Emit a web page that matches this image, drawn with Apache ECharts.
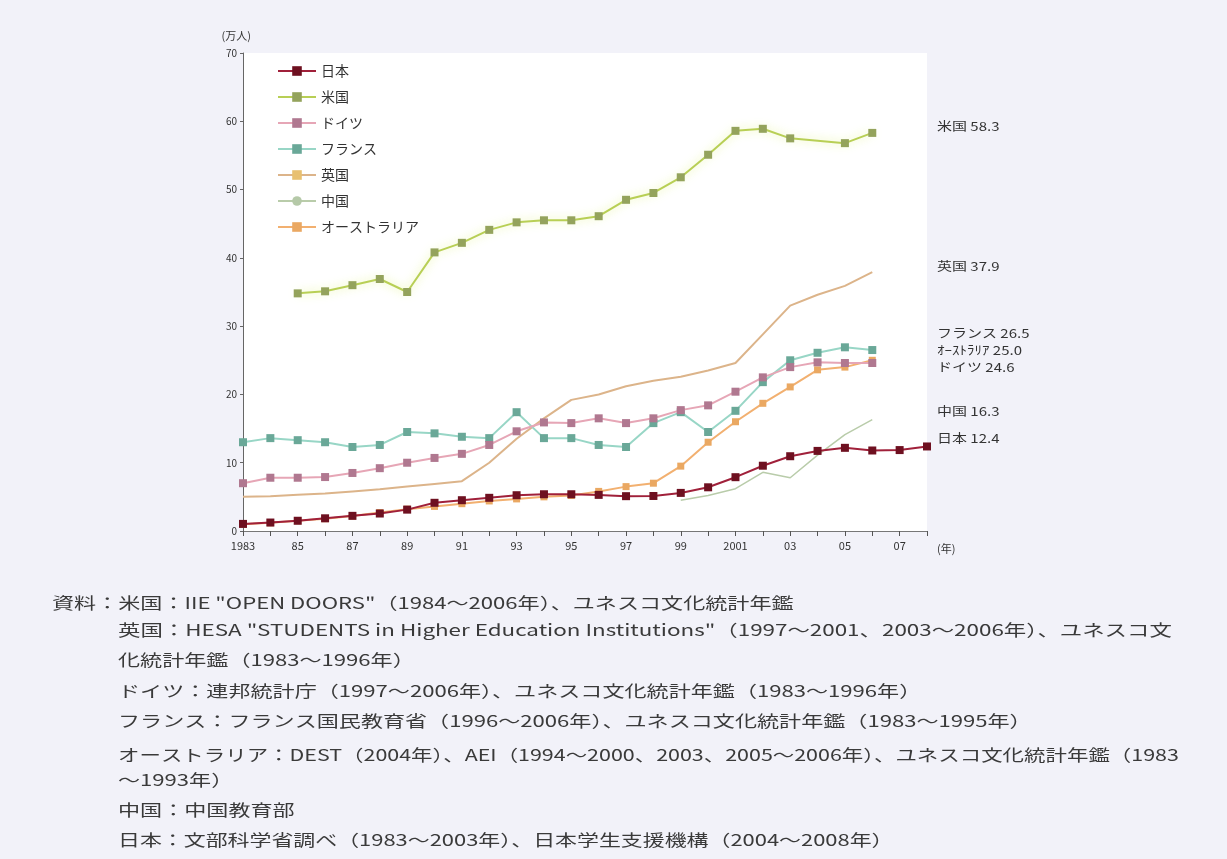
<!DOCTYPE html>
<html><head><meta charset="utf-8">
<script src="https://cdn.jsdelivr.net/npm/echarts@6/dist/echarts.min.js"></script>
<style>html,body{margin:0;padding:0;background:#f2f2f9;}#c{width:1227px;height:859px;}</style>
</head><body><div id="c"></div>
<script>
const years = ['1983','1984','1985','1986','1987','1988','1989','1990','1991','1992','1993','1994','1995','1996','1997','1998','1999','2000','2001','2002','2003','2004','2005','2006','2007','2008'];
const xTickLabels = ['1983','','85','','87','','89','','91','','93','','95','','97','','99','','2001','','03','','05','','07',''];
const japan = [1.04,1.24,1.50,1.86,2.22,2.56,3.13,4.13,4.51,4.86,5.24,5.38,5.38,5.29,5.10,5.13,5.58,6.40,7.88,9.56,10.95,11.73,12.18,11.79,11.85,12.38];
const usa = [null,null,34.8,35.1,36.0,36.9,35.0,40.8,42.2,44.1,45.2,45.5,45.5,46.1,48.5,49.5,51.8,55.1,58.6,58.9,57.5,null,56.8,58.3,null,null];
const germany = [7.0,7.8,7.8,7.9,8.5,9.2,10.0,10.7,11.3,12.6,14.6,15.9,15.8,16.5,15.8,16.5,17.7,18.4,20.4,22.5,24.0,24.7,24.6,24.6,null,null];
const france = [13.0,13.6,13.3,13.0,12.3,12.6,14.5,14.3,13.8,13.6,17.4,13.6,13.6,12.6,12.3,15.8,17.4,14.5,17.6,21.8,25.0,26.1,26.9,26.5,null,null];
const uk = [5.0,5.1,5.3,5.5,5.8,6.1,6.5,6.9,7.3,10.0,13.5,16.5,19.2,20.0,21.2,22.0,22.6,23.5,24.6,28.8,33.0,34.6,35.9,37.9,null,null];
const china = [null,null,null,null,null,null,null,null,null,null,null,null,null,null,null,null,4.5,5.2,6.2,8.6,7.8,11.1,14.1,16.3,null,null];
const australia = [1.0,1.2,1.5,1.8,2.2,2.7,3.2,3.6,4.0,4.4,4.7,5.0,5.2,5.8,6.5,7.0,9.5,13.0,16.0,18.7,21.1,23.6,24.0,25.0,null,null];
const endLabels = [
  ['米国 58.3',128],['英国 37.9',268],['フランス 26.5',335],['ｵｰｽﾄﾗﾘｱ 25.0',352],['ドイツ 24.6',369],['中国 16.3',413],['日本 12.4',440]
];
const sourceLines = [
  [52,605,'資料：米国：IIE "OPEN DOORS"（1984～2006年）、ユネスコ文化統計年鑑',1.38],
  [118,632,'英国：HESA "STUDENTS in Higher Education Institutions"（1997～2001、2003～2006年）、ユネスコ文',1.4],
  [118,662,'化統計年鑑（1983～1996年）',1.38],
  [118,693,'ドイツ：連邦統計庁（1997～2006年）、ユネスコ文化統計年鑑（1983～1996年）',1.38],
  [118,723,'フランス：フランス国民教育省（1996～2006年）、ユネスコ文化統計年鑑（1983～1995年）',1.38],
  [118,757,'オーストラリア：DEST（2004年）、AEI（1994～2000、2003、2005～2006年）、ユネスコ文化統計年鑑（1983',1.34],
  [118,782,'～1993年）',1.38],
  [118,812,'中国：中国教育部',1.38],
  [118,842,'日本：文部科学省調べ（1983～2003年）、日本学生支援機構（2004～2008年）',1.37]
];
const FONT = '"Noto Sans CJK JP", "Noto Sans", sans-serif';
const chart = echarts.init(document.getElementById('c'));
function mk(name, data, line, mark, opts) {
  return Object.assign({
    name, type: 'line', data, connectNulls: true,
    symbol: 'rect', symbolSize: 8, showSymbol: true,
    lineStyle: {color: line, width: 2},
    itemStyle: {color: mark},
    emphasis: {disabled: true}
  }, opts || {});
}
const graphics = [];
endLabels.forEach(l => graphics.push({type:'text', x: 937, y: l[1]-8, scaleX: 1.25, style:{text:l[0], font:'12px '+FONT, fill:'#333'}}));
sourceLines.forEach(l => graphics.push({type:'text', x: l[0], y: l[1]-10, scaleX: l[3], style:{text:l[2], font:'16px '+FONT, fill:'#3a3a3a'}}));
chart.setOption({
  backgroundColor: '#f2f2f9',
  animation: false,
  textStyle: {fontFamily: FONT},
  grid: {left: 243, right: 300, top: 53, bottom: 328, show: true, backgroundColor: '#ffffff', borderWidth: 0},
  legend: {
    orient: 'vertical', left: 272, top: 59, itemGap: 12, itemWidth: 38, itemHeight: 12,
    textStyle: {fontSize: 14, color: '#333'},
    data: ['日本','米国','ドイツ','フランス','英国','中国','オーストラリア']
  },
  xAxis: {
    type: 'category', data: years, boundaryGap: false,
    name: '(年)', nameLocation: 'end', nameGap: 10,
    nameTextStyle: {fontSize: 11, color: '#333', verticalAlign: 'top', padding: [12,0,0,0]},
    axisLine: {lineStyle: {color: '#777', width: 1}},
    axisTick: {interval: 0, length: 5, lineStyle: {color: '#555'}},
    axisLabel: {interval: 0, fontSize: 11, color: '#333', margin: 9, formatter: (v, i) => xTickLabels[i]},
    splitLine: {show: false}
  },
  yAxis: {
    type: 'value', min: 0, max: 70, interval: 10,
    name: '(万人)', nameLocation: 'end', nameGap: 12,
    nameTextStyle: {fontSize: 11, color: '#333', align: 'right', padding: [0,-8,0,0]},
    axisLine: {show: true, lineStyle: {color: '#666', width: 1}},
    axisTick: {show: true, length: 3, lineStyle: {color: '#666'}},
    axisLabel: {fontSize: 10, color: '#333', margin: 6},
    splitLine: {show: false}
  },
  graphic: graphics,
  series: [
    mk('中国', china, '#b5c9a8', '#b5c9a8', {symbol: 'none', lineStyle: {color: '#b9ccaa', width: 1.5}, z: 2}),
    mk('英国', uk, '#dcb48a', '#e8c070', {showSymbol: false, lineStyle: {color: '#dcb48a', width: 2}, z: 2}),
    mk('オーストラリア', australia, '#f2b070', '#eaa862', {symbolSize: 7, z: 3}),
    mk('フランス', france, '#98d6c6', '#6aa898', {z: 4}),
    mk('ドイツ', germany, '#e6a6b6', '#b07890', {z: 5}),
    mk('米国', usa, '#b8cf55', '#94a35c', {lineStyle: {color: '#b8cf55', width: 2, shadowColor: 'rgba(220,240,110,0.8)', shadowBlur: 10}, z: 6}),
    mk('日本', japan, '#a0203a', '#6e1020', {z: 7})
  ]
});
</script></body></html>
